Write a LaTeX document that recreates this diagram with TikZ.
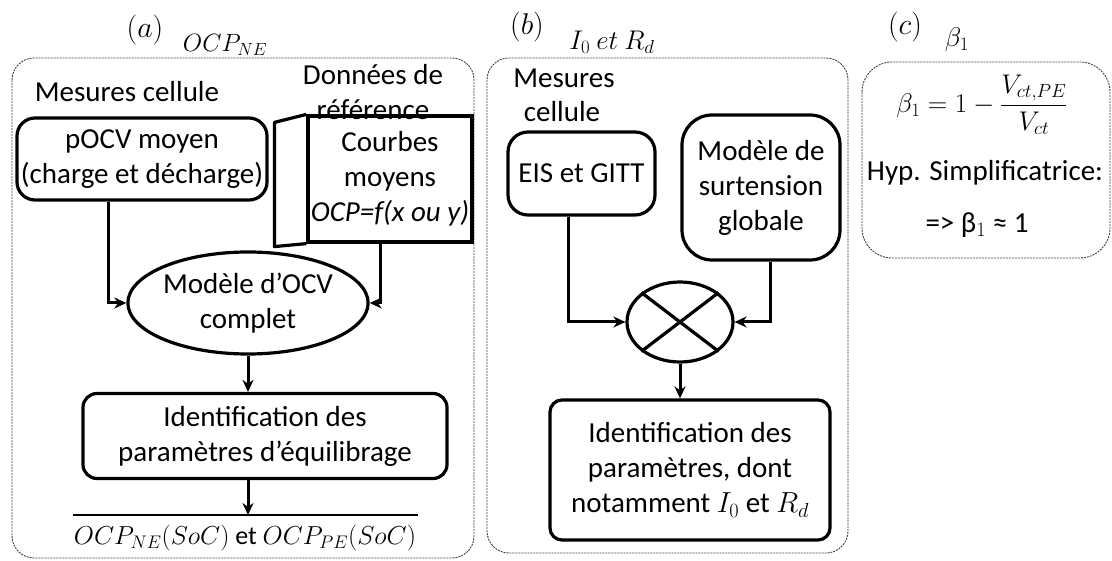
\documentclass[tikz,border=0pt]{standalone}
\usepackage{fix-cm}
\usepackage{amsmath}
\usepackage{fontspec}
\setmainfont{Carlito}
\usetikzlibrary{shapes.geometric,arrows.meta}
\begin{document}
\begin{tikzpicture}[x=1pt,y=-1pt,
  every node/.style={font=\fontsize{29}{35}\selectfont, inner sep=0pt},
  frame/.style={draw=black!75, line width=0.9pt, dash pattern=on 2pt off 1pt, rounded corners=#1},
  box/.style={draw, line width=3.2pt, rounded corners=#1, align=center},
  arr/.style={line width=3pt, -{Stealth[length=12pt,width=11pt]}},
  title/.style={font=\fontsize{30}{34}\selectfont},
  mtitle/.style={font=\fontsize{#1}{28}\selectfont}]
\useasboundingbox (0,0) rectangle (1112,561);
% ---------- frames
\draw[frame=22] (12,58) rectangle (474,558);
\draw[frame=22] (487,58) rectangle (848,553);
\draw[frame=30] (862,62) rectangle (1110,258);
% ---------- titles
\node[title] (ta) at (145,30) {$(a)$};
\node[mtitle=25] (tna) at (225,45) {$OCP_{NE}$};
\node[title] (tb) at (527,27) {$(b)$};
\node[mtitle=27] (tnb) at (612,42) {$I_0\ et\ R_d$};
\node[title] (tc) at (905,27) {$(c)$};
\node[mtitle=27] (tnc) at (957,40) {$\beta_1$};
% ---------- panel a
\node (mca) at (127,92) {Mesures cellule};
\node[align=center] (dref) at (373,92) {Données de\\référence};
\node[box=18pt, minimum width=250, minimum height=82] (pocv) at (142,159)
  {pOCV moyen\\(charge et décharge)};
\node[draw, line width=3.2pt, minimum width=164, minimum height=126, align=center] (sd) at (390,179)
  {Courbes\\moyens\\\textit{OCP=f(x ou y)}};
\draw[line width=3.2pt, line join=round] (sd.north west) -- ([shift={(-32,8)}]sd.north west)
  -- ([shift={(-32,3)}]sd.south west) -- (sd.south west);
\node[draw, ellipse, line width=3.2pt, minimum width=222, minimum height=102, align=center] (ocv) at (248,303)
  {Modèle d’OCV\\complet};
\node[box=14pt, minimum width=364, minimum height=85] (id1) at (265,436)
  {Identification des\\paramètres d’équilibrage};
\draw[arr] ([xshift=-34]pocv.south) |- (ocv.west);
\draw[arr] ([xshift=-10]sd.south) |- (ocv.east);
\draw[arr] (ocv.south) -- (ocv.south |- id1.north);
\coordinate (res) at (248,515);
\draw[line width=2.4pt] (73,515) -- (418,515);
\draw[arr] (ocv.south |- id1.south) -- (res);
\node[font=\fontsize{26}{30}\selectfont] (out) at (245,538) {$OCP_{NE}(SoC)$ et $OCP_{PE}(SoC)$};
% ---------- panel b
\node (mcb1) at (564,78) {Mesures};
\node (mcb2) at (562,112) {cellule};
\node[box=20pt, minimum width=147, minimum height=83] (eis) at (581.5,173.5) {EIS et GITT};
\node[box=30pt, minimum width=158, minimum height=145] (mod) at (761,187.5)
  {Modèle de\\surtension\\globale};
\node[draw, ellipse, line width=3.2pt, minimum width=106, minimum height=80] (mx) at (680,322) {};
\draw[line width=3.2pt] (mx.north west) -- (mx.south east) (mx.north east) -- (mx.south west);
\node[box=12pt, minimum width=280, minimum height=140] (id2) at (690,470)
  {Identification des\\paramètres, dont\\notamment $I_0$ et $R_d$};
\draw[arr] ([xshift=-13.5]eis.south) |- (mx.west);
\draw[arr] ([xshift=9]mod.south) |- (mx.east);
\draw[arr] (mx.south) -- (mx.south |- id2.north);
% ---------- panel c
\node[font=\fontsize{27}{32}\selectfont] (eq) at (982,105) {$\beta_1 = 1 - \dfrac{V_{ct,PE}}{V_{ct}}$};
\node (hyp) at (985,173) {Hyp. Simplificatrice:};
\node (appr) at (977,225) {=> β$_1$ ≈ 1};
\end{tikzpicture}
\end{document}
